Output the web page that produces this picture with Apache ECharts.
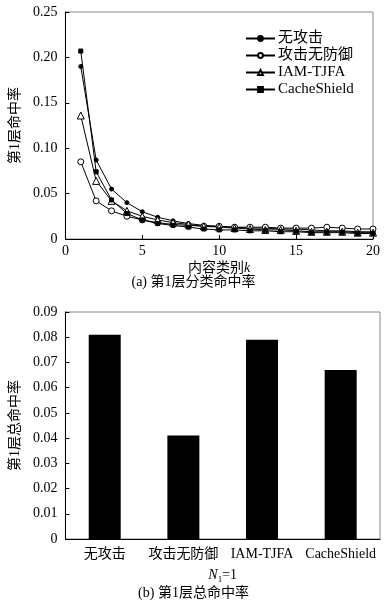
<!DOCTYPE html>
<html><head><meta charset="utf-8">
<script src="https://cdn.jsdelivr.net/npm/echarts@6/dist/echarts.min.js"></script>
<style>html,body{margin:0;padding:0;background:#fff}#c{width:387px;height:608px}</style>
</head><body><div id="c"></div>
<script>
const kValues = [1,2,3,4,5,6,7,8,9,10,11,12,13,14,15,16,17,18,19,20];
const noAttack   = [0.190,0.087,0.055,0.040,0.030,0.024,0.020,0.017,0.015,0.014,0.013,0.012,0.012,0.011,0.011,0.010,0.009,0.009,0.008,0.008];
const attackNoDef= [0.085,0.042,0.031,0.025,0.021,0.018,0.016,0.015,0.014,0.014,0.013,0.013,0.013,0.012,0.012,0.012,0.013,0.012,0.011,0.011];
const iamTjfa    = [0.136,0.064,0.042,0.031,0.025,0.021,0.018,0.016,0.014,0.013,0.012,0.011,0.010,0.010,0.009,0.008,0.008,0.008,0.007,0.007];
const cacheShield= [0.207,0.074,0.043,0.028,0.021,0.017,0.015,0.013,0.011,0.010,0.010,0.009,0.009,0.008,0.008,0.007,0.007,0.007,0.006,0.006];
const seriesNames = ['无攻击','攻击无防御','IAM-TJFA','CacheShield'];
const barCategories = ['无攻击','攻击无防御','IAM-TJFA','CacheShield'];
const barValues = [0.081,0.041,0.079,0.067];

const FONT = '"Liberation Serif","Noto Sans CJK SC",serif';
const chart = echarts.init(document.getElementById('c'), null, {renderer:'canvas'});
const pair = a => a.map((v,i)=>[kValues[i], v]);
const axisCommon = () => ({
  axisLine:{show:true,lineStyle:{color:'#000',width:1}},
  axisTick:{show:true,inside:true,length:4,lineStyle:{color:'#000'}},
  splitLine:{show:false},
  axisLabel:{color:'#000',fontFamily:FONT,fontSize:14}
});
const mkLine = (idx, data, symbol, size, filled) => ({
  name:seriesNames[idx],type:'line',xAxisIndex:0,yAxisIndex:0,data:pair(data),
  symbol:symbol,symbolSize:size,showSymbol:true,showAllSymbol:true,
  itemStyle:{color:filled?'#000':'#fff',borderColor:'#000',borderWidth:1,opacity:1},
  lineStyle:{color:'#000',width:1,type:'solid',opacity:1},
  emphasis:{disabled:true}
});
chart.setOption({
  animation:false,
  backgroundColor:'#fff',
  textStyle:{fontFamily:FONT},
  title:[
    {text:'(a) 第1层分类命中率',left:'center',top:275,textStyle:{fontFamily:FONT,fontSize:14,fontWeight:'normal',color:'#000'},padding:0},
    {text:'(b) 第1层总命中率',left:'center',top:586,textStyle:{fontFamily:FONT,fontSize:14,fontWeight:'normal',color:'#000'},padding:0}
  ],
  legend:{
    data:seriesNames, left:240, top:26, orient:'vertical', itemWidth:29, itemHeight:6, itemGap:2,
    textStyle:{fontFamily:FONT,fontSize:15,color:'#000',padding:[0,0,0,-2]}
  },
  grid:[
    {left:60,right:14,top:12,height:227,show:true,borderColor:'#888',borderWidth:1},
    {left:60,right:7,top:312,height:227,show:true,borderColor:'#888',borderWidth:1}
  ],
  xAxis:[
    Object.assign(axisCommon(),{gridIndex:0,type:'value',min:0,max:20,interval:5,
      axisLabel:{color:'#000',fontFamily:FONT,fontSize:14,margin:5},
      name:'{a|内容类别}{b|k}',nameLocation:'middle',nameGap:22,
      nameTextStyle:{rich:{a:{fontFamily:FONT,fontSize:14,color:'#000'},b:{fontFamily:FONT,fontSize:14,fontStyle:'italic',color:'#000'}}}}),
    Object.assign(axisCommon(),{gridIndex:1,type:'category',data:barCategories,
      axisTick:{show:false},
      axisLabel:{color:'#000',fontFamily:FONT,fontSize:14,interval:0,margin:8},
      name:'{i|N}{s|1}{n|=1}',nameLocation:'middle',nameGap:28,
      nameTextStyle:{rich:{i:{fontFamily:FONT,fontSize:14,fontStyle:'italic',color:'#000'},s:{fontFamily:FONT,fontSize:9,color:'#000',verticalAlign:'bottom',padding:[8,0,0,0]},n:{fontFamily:FONT,fontSize:14,color:'#000'}}}})
  ],
  yAxis:[
    Object.assign(axisCommon(),{gridIndex:0,type:'value',min:0,max:0.25,interval:0.05,
      axisLabel:{color:'#000',fontFamily:FONT,fontSize:14,formatter:v=>v===0?'0':v.toFixed(2)},
      name:'第1层命中率',nameLocation:'middle',nameGap:42,nameRotate:90,
      nameTextStyle:{fontFamily:FONT,fontSize:14,color:'#000'}}),
    Object.assign(axisCommon(),{gridIndex:1,type:'value',min:0,max:0.09,interval:0.01,
      axisLabel:{color:'#000',fontFamily:FONT,fontSize:14,formatter:v=>v===0?'0':v.toFixed(2)},
      name:'第1层总命中率',nameLocation:'middle',nameGap:42,nameRotate:90,
      nameTextStyle:{fontFamily:FONT,fontSize:14,color:'#000'}})
  ],
  series:[
    mkLine(0, noAttack, 'circle', 4, true),
    mkLine(1, attackNoDef, 'circle', 6, false),
    mkLine(2, iamTjfa, 'triangle', 7, false),
    mkLine(3, cacheShield, 'rect', 4, true),
    {type:'bar',xAxisIndex:1,yAxisIndex:1,data:barValues,barWidth:32,itemStyle:{color:'#000'}}
  ]
});
</script></body></html>
